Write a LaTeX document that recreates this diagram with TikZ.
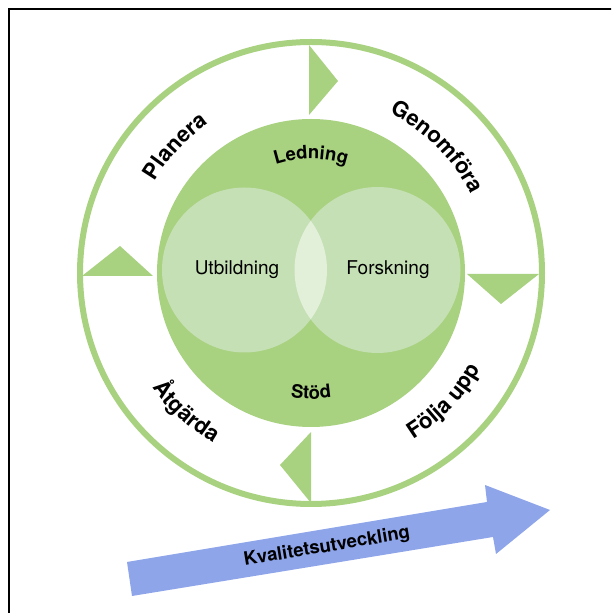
\documentclass[tikz,border=0pt]{standalone}
\usepackage{fontspec}
\setmainfont{TeX Gyre Heros}
\usetikzlibrary{decorations.text}
\definecolor{ringgreen}{RGB}{168,209,128}
\definecolor{venngreen}{RGB}{197,224,180}
\definecolor{overlapgreen}{RGB}{226,239,217}
\definecolor{arrowblue}{RGB}{142,165,234}
\newcommand{\outerlbl}{\bfseries\fontsize{22}{22}\selectfont}
\newcommand{\innerlbl}{\bfseries\fontsize{18.5}{18.5}\selectfont}
\tikzset{
  curvlbl/.style={decorate, decoration={text along path, text align=center, text={#1}}},
  tri/.style={fill=ringgreen},
  venntext/.style={font=\fontsize{19}{19}\selectfont}
}
\begin{document}
\begin{tikzpicture}[x=1pt,y=1pt]
\useasboundingbox (0,0) rectangle (611,613);
\clip (0,0) rectangle (611,613);
\draw[line width=2pt] (9,-5) -- (9,603.5) -- (620,603.5);
\coordinate (C) at (311,340);
% outer ring and inner disc
\draw[ringgreen, line width=6pt] (C) circle[radius=231];
\fill[ringgreen] (C) circle[radius=154];
% venn
\coordinate (L) at (244.5,343);
\coordinate (R) at (377.5,343);
\fill[venngreen] (L) circle[radius=82.5];
\fill[venngreen] (R) circle[radius=83];
\begin{scope}
  \clip (L) circle[radius=82.5];
  \fill[overlapgreen] (R) circle[radius=83];
\end{scope}
\node[venntext] (utb) at (237,343) {Utbildning};
\node[venntext] (fors) at (388,343) {Forskning};
% triangles
\fill[tri] (309,568) -- (309,498) -- (338,532) -- cycle;
\fill[tri] (82,337) -- (153,337) -- (120,367) -- cycle;
\fill[tri] (467,339) -- (539,339) -- (501,309) -- cycle;
\fill[tri] (311,181) -- (311,110) -- (280,148) -- cycle;
% curved labels
\path[curvlbl={|\outerlbl|Planera}] (C) ++(177:181) arc[start angle=177, end angle=97, radius=181];
\path[curvlbl={|\outerlbl|Genomföra}] (C) ++(95:178) arc[start angle=95, end angle=-5, radius=178];
\path[curvlbl={|\outerlbl|Åtgärda}] (C) ++(188:196) arc[start angle=188, end angle=268, radius=196];
\path[curvlbl={|\outerlbl|Följa upp}] (C) ++(-84:195) arc[start angle=-84, end angle=-4, radius=195];
\path[curvlbl={|\innerlbl|Ledning}] (C) ++(130:114) arc[start angle=130, end angle=50, radius=114];
\path[curvlbl={|\innerlbl|Stöd}] (C) ++(-130:126) arc[start angle=-130, end angle=-50, radius=126];
% blue arrow
\fill[arrowblue] (127,51) -- (487,111) -- (485,128) -- (550,103) -- (496,59) -- (493,76) -- (132,17) -- cycle;
\node[rotate=9.4, font=\bfseries\fontsize{18.5}{18.5}\selectfont] (kv) at (327,66) {Kvalitetsutveckling};
\end{tikzpicture}
\end{document}
